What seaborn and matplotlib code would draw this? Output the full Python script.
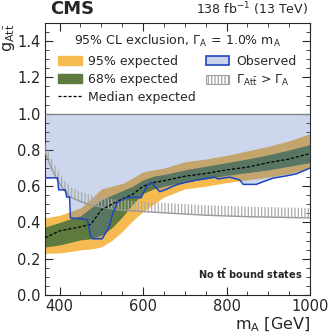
import numpy as np
import pandas as pd
import seaborn as sns
import matplotlib.pyplot as plt
from matplotlib.patches import Patch
from matplotlib.lines import Line2D
from matplotlib.ticker import MultipleLocator

# expected limit bands
mass = [365, 400, 425, 450, 475, 500, 525, 550, 575, 600, 625, 650,
        700, 750, 800, 850, 900, 950, 1000]
exp_lo95 = [0.23, 0.232, 0.24, 0.249, 0.254, 0.265, 0.30, 0.35, 0.41, 0.46,
            0.50, 0.54, 0.585, 0.60, 0.62, 0.635, 0.65, 0.67, 0.70]
exp_lo68 = [0.265, 0.276, 0.29, 0.304, 0.31, 0.33, 0.37, 0.43, 0.50, 0.56,
            0.585, 0.60, 0.624, 0.64, 0.66, 0.675, 0.69, 0.71, 0.73]
exp_med = [0.315, 0.354, 0.365, 0.376, 0.39, 0.47, 0.50, 0.53, 0.555, 0.60,
           0.62, 0.63, 0.655, 0.67, 0.69, 0.705, 0.73, 0.75, 0.78]
exp_hi68 = [0.375, 0.40, 0.42, 0.437, 0.48, 0.525, 0.55, 0.575, 0.60, 0.635,
            0.655, 0.665, 0.69, 0.71, 0.73, 0.75, 0.773, 0.80, 0.83]
exp_hi95 = [0.425, 0.44, 0.46, 0.48, 0.53, 0.585, 0.60, 0.615, 0.645, 0.68,
            0.69, 0.70, 0.735, 0.75, 0.77, 0.795, 0.82, 0.85, 0.89]

# observed limit
obs_mass = [365, 395, 398, 414, 417, 424, 426, 455, 467, 474, 480, 502, 507,
            519, 526, 538, 559, 583, 595, 609, 619, 628, 640, 653, 667, 683,
            700, 731, 771, 780, 807, 831, 840, 871, 888, 912, 943, 967, 1000]
obs_lim = [0.646, 0.646, 0.58, 0.58, 0.54, 0.54, 0.425, 0.42, 0.414, 0.326,
           0.31, 0.31, 0.33, 0.376, 0.44, 0.51, 0.536, 0.54, 0.536, 0.60,
           0.62, 0.60, 0.57, 0.58, 0.595, 0.61, 0.62, 0.635, 0.65, 0.64,
           0.65, 0.635, 0.61, 0.61, 0.625, 0.645, 0.657, 0.668, 0.70]

# width limit Gamma_Att > Gamma_A
wid_mass = [365, 380, 395, 410, 426, 450, 474, 500, 538, 600, 652, 750, 850, 1000]
wid_lim = [0.79, 0.70, 0.635, 0.58, 0.54, 0.515, 0.497, 0.485, 0.47, 0.46,
           0.453, 0.44, 0.432, 0.425]

c95 = '#F5BB50'
c68 = '#5E7A3E'
cobs = '#4A6EBF'
cline = '#1F45C0'

sns.set_style("ticks")
plt.rcParams['font.family'] = ['DejaVu Sans']
plt.rcParams['hatch.linewidth'] = 0.9

fig = plt.figure(figsize=(3.33, 3.33), dpi=100)
ax = fig.add_axes([0.135, 0.114, 0.796, 0.817])

ax.fill_between(mass, exp_lo95, exp_hi95, color=c95, lw=0, zorder=1)
ax.fill_between(mass, exp_lo68, exp_hi68, color=c68, lw=0, zorder=2)

ax.fill_between(obs_mass, obs_lim, 1.0, color=cobs, alpha=0.28, lw=0, zorder=3)
ax.axhline(1.0, color='#808080', lw=0.9, zorder=3)

# width exclusion curve with hatching
wid = np.array(wid_lim)
ax.fill_between(wid_mass, wid, wid + 0.055, facecolor='none', edgecolor='#AAAAAA',
                hatch='|||||', lw=0, zorder=4)
sns.lineplot(x=wid_mass, y=wid_lim, color='#999999', lw=1.0, ax=ax, zorder=4)

df_med = pd.DataFrame({'m': mass, 'g': exp_med})
sns.lineplot(data=df_med, x='m', y='g', color='black', lw=0.9, ls=(0, (2.5, 1.5)),
             ax=ax, zorder=5)
df_obs = pd.DataFrame({'m': obs_mass, 'g': obs_lim})
sns.lineplot(data=df_obs, x='m', y='g', color=cline, lw=1.1, ax=ax, zorder=6)

ax.set_xlim(365, 1000)
ax.set_ylim(0, 1.5)
ax.xaxis.set_major_locator(MultipleLocator(200))
ax.xaxis.set_minor_locator(MultipleLocator(50))
ax.yaxis.set_major_locator(MultipleLocator(0.2))
ax.yaxis.set_minor_locator(MultipleLocator(0.05))
ax.tick_params(which='both', direction='in', top=True, right=True, labelsize=10.5)
ax.tick_params(which='major', length=6, pad=3)
ax.tick_params(which='minor', length=3)
for s in ax.spines.values():
    s.set_linewidth(0.8)

ax.set_xlabel(r'm$_\mathrm{A}$ [GeV]', loc='right', fontsize=11.5, labelpad=1)
ax.set_ylabel(r'g$_\mathrm{At\bar{t}}$', loc='top', fontsize=11.5, labelpad=0)

fig.text(0.15, 0.945, 'CMS', fontsize=13, fontweight='bold', ha='left', va='bottom')
fig.text(0.925, 0.945, r'138 fb$^{-1}$ (13 TeV)', fontsize=9, ha='right', va='bottom')
ax.text(0.97, 0.05, r'No t$\mathbf{\bar{t}}$ bound states', transform=ax.transAxes,
        fontsize=7, fontweight='bold', ha='right', va='bottom')

handles = [Patch(color=c95, label='95% expected'),
           Patch(color=c68, label='68% expected'),
           Line2D([], [], color='black', lw=0.9, ls=(0, (2.5, 1.5)), label='Median expected'),
           Patch(facecolor='#CBD3EC', edgecolor=cline, lw=1.2, label='Observed'),
           Patch(facecolor='white', edgecolor='#A0A0A0', hatch='|||||', lw=0.8,
                 label=r'$\Gamma_\mathrm{At\bar{t}}$ > $\Gamma_\mathrm{A}$')]
leg = ax.legend(handles=handles, ncol=2, frameon=False, loc='upper center',
                bbox_to_anchor=(0.5, 1.005), fontsize=9,
                title=r'95% CL exclusion, $\Gamma_\mathrm{A}\,=\,$1.0% m$_\mathrm{A}$',
                title_fontsize=9, handlelength=1.85, handleheight=0.7,
                columnspacing=0.8, labelspacing=0.4, handletextpad=0.55)
leg._legend_box.sep = 4

fig.savefig('out.png', dpi=100)
